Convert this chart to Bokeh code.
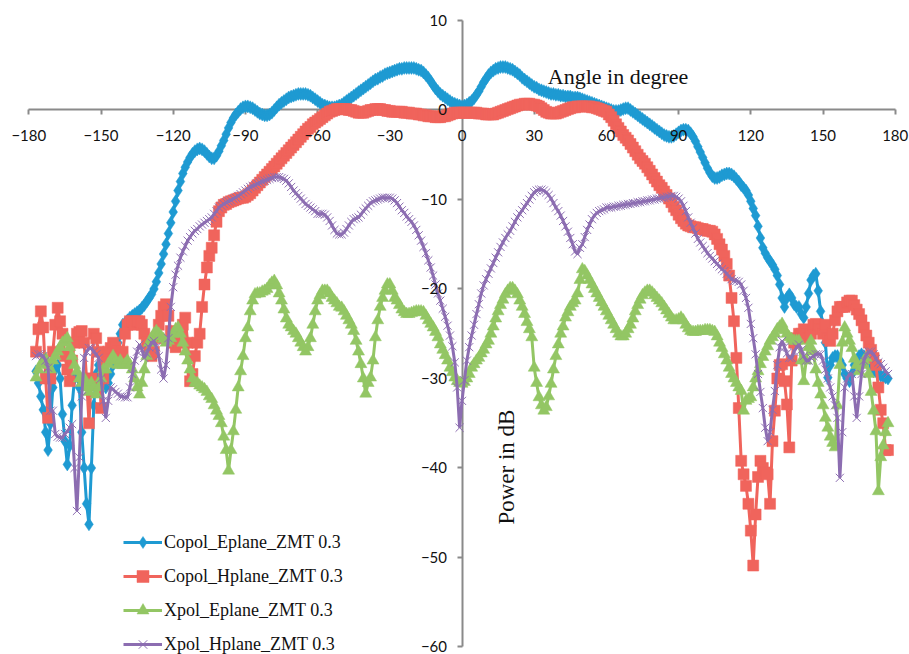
from bokeh.plotting import figure
from bokeh.models import Range1d, FixedTicker, LinearAxis, Label, Legend, LegendItem
from bokeh.embed import file_html
from bokeh.resources import INLINE
import math

ANGLES = list(range(-177, 178))

copol_eplane = [
    -29.2, -30.5, -32, -33.5, -36, -38, -35,
    -31, -29, -28.5, -30, -34, -37, -39.6, -37.5, -33, -30,
    -29.5, -31, -36, -40, -44, -46.3, -40, -33, -29.5, -28.5,
    -29, -30, -31, -30.5, -29.5, -28.5, -27.5, -26, -25, -24,
    -23.8, -23.5, -23.2, -23, -22.8, -22.6, -22.4, -22.1, -21.8, -21.4,
    -21.0, -20.6, -20.0, -19.2, -18.2, -17.2, -16.1, -15.0, -13.8, -12.6,
    -11.4, -10.2, -9.0, -8.0, -7.1, -6.4, -5.8, -5.3, -4.9, -4.6,
    -4.4, -4.3, -4.4, -4.6, -4.9, -5.2, -5.4, -5.4, -5.1, -4.6,
    -4.0, -3.4, -2.7, -2.0, -1.4, -0.9, -0.5, -0.2, 0.1, 0.3,
    0.4, 0.4, 0.3, 0.2, 0.0, -0.2, -0.4, -0.5, -0.6, -0.6,
    -0.5, -0.3, 0.0, 0.3, 0.6, 0.8, 1.0, 1.2, 1.4, 1.5,
    1.6, 1.7, 1.8, 1.8, 1.8, 1.8, 1.7, 1.6, 1.4, 1.2,
    1.0, 0.8, 0.6, 0.5, 0.4, 0.3, 0.3, 0.3, 0.4, 0.5,
    0.6, 0.8, 1.0, 1.2, 1.4, 1.6, 1.8, 2.0, 2.2, 2.4,
    2.6, 2.8, 3.0, 3.2, 3.4, 3.5, 3.7, 3.8, 4.0, 4.1,
    4.2, 4.3, 4.4, 4.5, 4.6, 4.6, 4.7, 4.7, 4.7, 4.7,
    4.7, 4.6, 4.5, 4.4, 4.2, 3.9, 3.6, 3.2, 2.8, 2.4,
    2.1, 1.8, 1.6, 1.4, 1.2, 1.0, 0.8, 0.7, 0.6, 0.5,
    0.4, 0.5, 0.6, 0.8, 1.0, 1.3, 1.7, 2.1, 2.6, 3.1,
    3.5, 3.9, 4.2, 4.4, 4.6, 4.7, 4.8, 4.8, 4.8, 4.7,
    4.6, 4.5, 4.3, 4.1, 3.9, 3.6, 3.4, 3.2, 3.0, 2.8,
    2.6, 2.5, 2.3, 2.2, 2.1, 2.0, 1.9, 1.8, 1.8, 1.7,
    1.7, 1.6, 1.6, 1.5, 1.5, 1.5, 1.4, 1.4, 1.4, 1.3,
    1.2, 1.1, 1.0, 0.9, 0.8, 0.7, 0.6, 0.5, 0.4, 0.3,
    0.2, 0.1, 0.0, -0.1, -0.1, -0.1, 0.0, 0.1, 0.2, 0.2,
    0.0, -0.2, -0.4, -0.6, -0.8, -1.0, -1.2, -1.4, -1.6, -1.8,
    -2.0, -2.2, -2.4, -2.6, -2.8, -2.9, -3.0, -3.0, -2.9, -2.7,
    -2.5, -2.3, -2.2, -2.2, -2.3, -2.6, -3.0, -3.5, -4.1, -4.7,
    -5.3, -5.9, -6.5, -7.0, -7.4, -7.6, -7.6, -7.5, -7.3, -7.2,
    -7.1, -7.1, -7.2, -7.4, -7.7, -8.0, -8.4, -8.7, -9.0, -9.5,
    -10.2, -11.0, -11.8, -13.0, -14.3, -15.4, -16.0, -16.5, -16.9, -17.3,
    -17.8, -18.5, -19.5, -21, -22, -21, -20.6, -21, -21.7, -22,
    -22, -22.8, -23.2, -22, -20.5, -19, -18.5, -18.3, -20.2, -22.5,
    -24, -26, -29.9, -28.5, -27.7, -27.5, -27.5, -28, -28.5, -29.5,
    -30, -30.3, -29.5, -28.5, -28, -27.5, -27.3, -27.5, -28, -28.5,
    -29, -29.2, -29.2, -29.5, -29.7, -29.8, -29.9, -30,
]

copol_hplane = [
    -27, -24.5, -22.5, -24.3, -30, -34.4, -30,
    -27, -24, -22.1, -23.6, -25, -27.5, -29, -30.3, -28, -26,
    -25, -24.8, -24.7, -26, -30, -35, -30, -25, -25.5, -27,
    -33.3, -30, -28, -27, -26.6, -26, -26.5, -27, -27.5, -27,
    -25, -24, -23.6, -23.6, -24, -23.6, -23.6, -24, -25, -26,
    -27, -27.5, -27, -25.5, -24, -23, -22, -21.7, -23, -24.7,
    -26, -26.5, -26, -25, -24, -23.2, -26, -30.3, -29.5, -27.5,
    -26, -25, -22, -19.5, -17.6, -16.3, -15.4, -14, -12.5, -11.3,
    -10.9, -10.6, -10.5, -10.3, -10.2, -10.1, -10.0, -9.9, -9.8, -9.8,
    -9.7, -9.5, -9.3, -9.0, -8.7, -8.4, -8.1, -7.8, -7.5, -7.2,
    -6.9, -6.6, -6.3, -6.0, -5.7, -5.4, -5.1, -4.8, -4.5, -4.2,
    -3.9, -3.6, -3.3, -3.0, -2.7, -2.4, -2.1, -1.9, -1.6, -1.4,
    -1.2, -1.0, -0.8, -0.6, -0.4, -0.2, -0.1, 0.0, 0.1, 0.1,
    0.1, 0.1, 0.1, 0.0, 0.0, -0.1, -0.2, -0.3, -0.3, -0.3,
    -0.2, -0.1, 0.0, 0.0, 0.1, 0.1, 0.1, 0.0, 0.0, -0.1,
    -0.1, -0.2, -0.2, -0.2, -0.2, -0.2, -0.3, -0.3, -0.3, -0.4,
    -0.4, -0.4, -0.5, -0.5, -0.6, -0.6, -0.7, -0.7, -0.7, -0.8,
    -0.8, -0.8, -0.7, -0.7, -0.6, -0.5, -0.4, -0.3, -0.3, -0.3,
    -0.3, -0.3, -0.3, -0.3, -0.3, -0.3, -0.3, -0.4, -0.4, -0.4,
    -0.5, -0.5, -0.5, -0.5, -0.4, -0.3, -0.2, -0.1, 0.0, 0.1,
    0.2, 0.3, 0.4, 0.5, 0.6, 0.6, 0.7, 0.7, 0.7, 0.6,
    0.6, 0.5, 0.4, 0.2, 0.0, -0.2, -0.3, -0.4, -0.4, -0.4,
    -0.3, -0.2, -0.1, 0.0, 0.1, 0.2, 0.3, 0.3, 0.4, 0.4,
    0.4, 0.4, 0.4, 0.4, 0.3, 0.3, 0.2, 0.1, 0.0, -0.1,
    -0.2, -0.5, -0.8, -1.2, -1.6, -2.0, -2.4, -2.8, -3.1, -3.4,
    -3.8, -4.2, -4.6, -5.0, -5.4, -5.7, -6.0, -6.4, -6.8, -7.2,
    -7.6, -8.0, -8.4, -8.7, -9.1, -9.5, -9.9, -10.3, -10.8, -11.2,
    -11.7, -12.1, -12.4, -12.7, -12.9, -13.0, -13.1, -13.1, -13.2, -13.3,
    -13.3, -13.4, -13.5, -13.5, -13.6, -13.9, -14.4, -15.0, -15.6, -16.3,
    -17.2, -18.5, -21, -23.6, -27.7, -33.3, -39.2, -40.7, -42, -44,
    -47, -50.9, -45.2, -41, -39.2, -40, -40.5, -40.7, -44, -37,
    -33.6, -30, -28.5, -28.4, -30.3, -32.9, -37.7, -28, -26, -25.5,
    -25, -25, -24.5, -25, -25.5, -25, -24, -23.9, -24, -24.5,
    -25, -24, -25.5, -25.8, -25, -23.5, -22.5, -22, -22, -22,
    -21.5, -21.3, -21.3, -21.8, -22.3, -22.8, -23.5, -24.3, -25.2, -26,
    -26.8, -27.7, -28.5, -31, -33.5, -35, -38, -38,
]

xpol_eplane = [
    -29.9, -29, -28.4, -28, -27.8, -28.5, -29,
    -28, -27.5, -27, -26.5, -26, -25.8, -25.5, -26.5, -27.5, -28.5,
    -29.2, -30, -30.5, -30, -31, -31.5, -30.5, -31, -31.8, -31,
    -30, -29, -29, -28.4, -28, -27.5, -28, -28.5, -28, -28.5,
    -28.4, -28, -28.5, -29, -30, -31, -31.8, -30.5, -29, -27.5,
    -26, -25.5, -25, -24.7, -25, -25.3, -25.6, -26, -25.8, -25.5,
    -25, -24.5, -24.3, -25, -26, -27, -28, -29, -30, -30.5,
    -30.5, -30.8, -31, -31.2, -31.5, -32, -32.3, -33, -33.6, -34.2,
    -35, -36.5, -38, -40.3, -38, -35.9, -33.5, -31, -29.2, -27.5,
    -25.5, -24.3, -22.5, -21.3, -20.6, -20.5, -20.5, -20.3, -20.2, -20,
    -19.6, -19.3, -19.1, -19.6, -20.5, -21.3, -22.3, -23.3, -24, -24.3,
    -24.7, -25, -25.5, -26, -26.5, -27, -26.5, -25.5, -24, -22.5,
    -21.3, -20.7, -20.2, -20.2, -20.2, -20.5, -21, -21.3, -21.6, -22,
    -22.1, -22.5, -23, -23.5, -24, -24.7, -25.8, -27, -28.4, -30,
    -31.7, -30.5, -29.9, -28, -25.4, -23.5, -22, -21, -20.2, -19.5,
    -19.5, -20.2, -21, -21.3, -21.8, -22.3, -22.6, -22.8, -22.8, -22.7,
    -22.6, -22.5, -22.5, -22.5, -22.6, -23, -23.5, -23.9, -24.3, -24.8,
    -25.4, -26.2, -26.8, -27.4, -28, -28.8, -29.3, -29.9, -30.3, -30.5,
    -30.6, -30.4, -30, -29.5, -28.8, -28.4, -28, -27.7, -27.2, -26.8,
    -26.2, -25.8, -25, -24.2, -23.3, -22.5, -21.8, -21.2, -20.6, -20.2,
    -19.9, -19.9, -20.2, -20.6, -21.3, -22, -22.8, -23.7, -24.5, -25.4,
    -28.8, -30.5, -32.1, -33, -33.6, -33.2, -32, -30.6, -29, -27.5,
    -26.2, -25, -24.2, -23.2, -22.6, -22, -21.6, -21.3, -20.5, -19,
    -17.8, -18, -18.5, -19, -19.5, -20, -20.5, -21, -21.5, -22,
    -22.5, -23, -23.5, -24, -24.5, -25, -25.3, -25.3, -25, -24.5,
    -24, -23.3, -22.5, -21.8, -21.2, -20.7, -20.4, -20.2, -20.2, -20.4,
    -20.7, -21, -21.3, -21.6, -22, -22.4, -22.8, -23.2, -23.5, -23.5,
    -23.4, -23.2, -23.5, -24, -24.4, -24.7, -24.8, -24.8, -24.7, -24.7,
    -24.7, -24.6, -24.6, -24.6, -24.7, -24.8, -25.3, -26, -26.6, -27.3,
    -28, -28.8, -29.5, -30, -30.5, -31, -31.4, -33.6, -32.5, -32.3,
    -32.1, -31, -30, -29.2, -28.4, -27.6, -27, -26.4, -25.8, -25.4,
    -25, -24.5, -24.2, -23.9, -24.6, -25, -25.4, -25.6, -25.8, -25.8,
    -25.8, -28, -30.3, -28, -26.5, -25.8, -27, -29, -30.5, -31.8,
    -33, -34.4, -35.5, -36.5, -37.2, -37.7, -33, -28.5, -26, -24.3,
    -25, -25.8, -26.6, -27.8, -28.5, -29.2, -28.5, -28, -27.7, -29.5,
    -31.5, -33.6, -35.9, -42.6, -38.8, -37.5, -36, -35,
]

xpol_hplane = [
    -27.5, -27.3, -27.3, -27.5, -28, -28.8, -33.6,
    -33.6, -36.2, -36.5, -36.6, -36.6, -36.2, -35.9, -35.5, -35.1, -40,
    -44.8, -38.8, -32, -27.7, -27, -26.6, -26.6, -27, -27.3, -27.7,
    -30, -32.5, -34.4, -32.5, -31, -31.2, -31.5, -31.7, -32, -32,
    -32.1, -32.1, -31, -29.5, -28, -27, -26.2, -26.8, -27.7, -27.2,
    -26.5, -26, -25.8, -26.5, -27.5, -29, -30, -28.5, -25.5, -22,
    -19.8, -18.4, -17.4, -16.5, -15.8, -15.2, -14.6, -14.2, -13.8, -13.5,
    -13.3, -13, -12.8, -12.6, -12.4, -12.2, -12, -11.6, -11.3, -10.9,
    -10.7, -10.5, -10.3, -10.2, -10.1, -9.9, -9.8, -9.6, -9.4, -9.2,
    -9.0, -8.8, -8.6, -8.5, -8.4, -8.2, -8.1, -8.0, -7.9, -7.8,
    -7.7, -7.6, -7.5, -7.5, -7.5, -7.6, -7.7, -7.9, -8.2, -8.6,
    -9.0, -9.3, -9.6, -9.9, -10.2, -10.5, -10.7, -10.9, -11.1, -11.3,
    -11.6, -11.6, -11.6, -11.7, -12, -12.4, -12.9, -13.4, -13.8, -13.9,
    -13.9, -13.7, -13.3, -12.9, -12.5, -12.2, -12.1, -12, -11.7, -11.3,
    -11, -10.7, -10.4, -10.2, -10.1, -10, -9.9, -9.8, -9.8, -9.8,
    -9.8, -9.9, -10.1, -10.4, -10.8, -11.2, -11.5, -11.9, -12.2, -12.5,
    -12.9, -13.4, -14, -14.6, -15.3, -16, -16.8, -17.6, -18.5, -19.5,
    -20.5, -21.3, -22.2, -23.1, -24.1, -25.2, -26.4, -28.2, -31, -35.5,
    -32.5, -30.2, -28, -26.5, -25.2, -24, -22.8, -21.7, -20.5, -19.6,
    -18.9, -18.3, -17.7, -17.1, -16.5, -15.9, -15.3, -14.8, -14.3, -13.9,
    -13.5, -13, -12.5, -12, -11.6, -11.2, -10.8, -10.4, -10, -9.6,
    -9.2, -9, -8.9, -8.9, -9, -9.2, -9.5, -9.9, -10.4, -10.9,
    -11.3, -11.8, -12.4, -13, -13.6, -14.3, -15, -15.8, -16.1, -15.4,
    -15, -14.2, -13.4, -12.8, -12.2, -11.8, -11.5, -11.3, -11.2, -11.1,
    -10.9, -10.9, -10.9, -10.8, -10.8, -10.7, -10.7, -10.6, -10.6, -10.5,
    -10.5, -10.4, -10.4, -10.3, -10.3, -10.2, -10.2, -10.1, -10.1, -10,
    -10, -9.9, -9.9, -9.8, -9.8, -9.7, -9.7, -9.6, -9.6, -9.7,
    -9.9, -10.2, -10.7, -11.3, -12, -12.6, -13.2, -13.8, -14.4, -14.8,
    -15.2, -15.6, -16, -16.3, -16.6, -16.9, -17.2, -17.5, -17.8, -18,
    -18.3, -18.6, -18.9, -19.1, -19.1, -19.2, -19.5, -20.2, -21, -22.1,
    -23.9, -25.5, -27.3, -29.5, -31.5, -33.3, -35.5, -37, -36, -33.5,
    -31.4, -28.5, -26.5, -25.8, -26.5, -27.2, -27.7, -27.7, -27, -26.5,
    -26.2, -26.8, -27.5, -28, -28, -27.7, -27.5, -27.3, -27.3, -27.3,
    -28, -29, -30, -31, -32, -33, -34.4, -41.1, -36, -31,
    -30, -29.5, -29.5, -32, -34.4, -32, -29.5, -28, -27.3, -27,
    -27, -27.3, -27.8, -28.2, -28.4, -28.8, -29.2, -29.5,
]

X_TICKS = [-180, -150, -120, -90, -60, -30, 0, 30, 60, 90, 120, 150, 180]
Y_TICKS = [-60, -50, -40, -30, -20, -10, 0, 10]
NAMES = ["Copol_Eplane_ZMT 0.3", "Copol_Hplane_ZMT 0.3",
         "Xpol_Eplane_ZMT 0.3", "Xpol_Hplane_ZMT 0.3"]
COLORS = ["#1E9AD2", "#F0645C", "#93C664", "#8C6DB1"]

for s in (copol_eplane, copol_hplane, xpol_eplane, xpol_hplane):
    assert len(s) == len(ANGLES), len(s)

# the frame covers the whole canvas; axes are bounded to the data limits
p = figure(width=909, height=654,
           x_range=Range1d(-191.76, 185.94), y_range=Range1d(-60.84, 12.235),
           output_backend="svg", toolbar_location=None,
           x_axis_location=None, y_axis_location=None,
           min_border_left=0, min_border_right=0, min_border_top=0, min_border_bottom=0)
p.outline_line_color = None
p.grid.visible = False
p.background_fill_color = "white"
p.border_fill_color = "white"

AX_COLOR = "#8a8a8a"
TICK_FONT = "Lato"

def make_axis(dim, level, labels):
    ticks = X_TICKS if dim == "x" else Y_TICKS
    bounds = (-180, 180) if dim == "x" else (-60, 10)
    ax = LinearAxis(ticker=FixedTicker(ticks=ticks), fixed_location=0, level=level,
                    bounds=bounds)
    ax.axis_line_color = AX_COLOR if not labels else None
    ax.axis_line_width = 2
    ax.major_tick_line_color = AX_COLOR if not labels else None
    ax.major_tick_line_width = 2
    ax.major_tick_out = 5
    ax.major_tick_in = 0
    ax.minor_tick_line_color = None
    ax.major_label_text_font = TICK_FONT
    ax.major_label_text_font_size = "15px"
    ax.major_label_text_color = "#111111" if labels else None
    ax.major_label_standoff = 15 if dim == "x" else 10
    return ax

p.add_layout(make_axis("x", "underlay", False), "below")
p.add_layout(make_axis("y", "underlay", False), "left")

items = []
specs = [
    (copol_eplane, dict(marker="diamond", size=13)),
    (copol_hplane, dict(marker="square", size=11)),
    (xpol_eplane, dict(marker="triangle", size=12)),
    (xpol_hplane, dict(marker="x", size=11.5, line_width=1)),
]
for (vals, mk), name, col in zip(specs, NAMES, COLORS):
    rl = p.line(ANGLES, vals, line_color=col, line_width=3)
    lw = mk.pop("line_width", 0.5)
    rm = p.scatter(ANGLES, vals, fill_color=col, line_color=col, line_width=lw, **mk)
    items.append(LegendItem(label=name, renderers=[rl, rm]))

p.add_layout(make_axis("x", "guide", True), "below")
p.add_layout(make_axis("y", "guide", True), "left")

p.add_layout(Label(x=35.65, y=3.7, text="Angle in degree", text_font="Liberation Serif",
                   text_font_size="22px", text_align="left", text_baseline="alphabetic",
                   text_color="#111111"))
p.add_layout(Label(x=18.5, y=-39.9, text="Power in dB", text_font="Liberation Serif",
                   text_font_size="23px", text_align="center", text_baseline="alphabetic",
                   angle=math.pi / 2, text_color="#111111"))

legend = Legend(items=items, location=(123, -5), orientation="vertical",
                label_text_font="Liberation Serif", label_text_font_size="18px",
                label_text_color="#111111",
                glyph_width=39, glyph_height=30, label_height=20, spacing=4,
                label_standoff=2, padding=0, margin=0,
                border_line_color=None, background_fill_alpha=0)
p.add_layout(legend)

open("out.html", "w").write(file_html(p, INLINE))
